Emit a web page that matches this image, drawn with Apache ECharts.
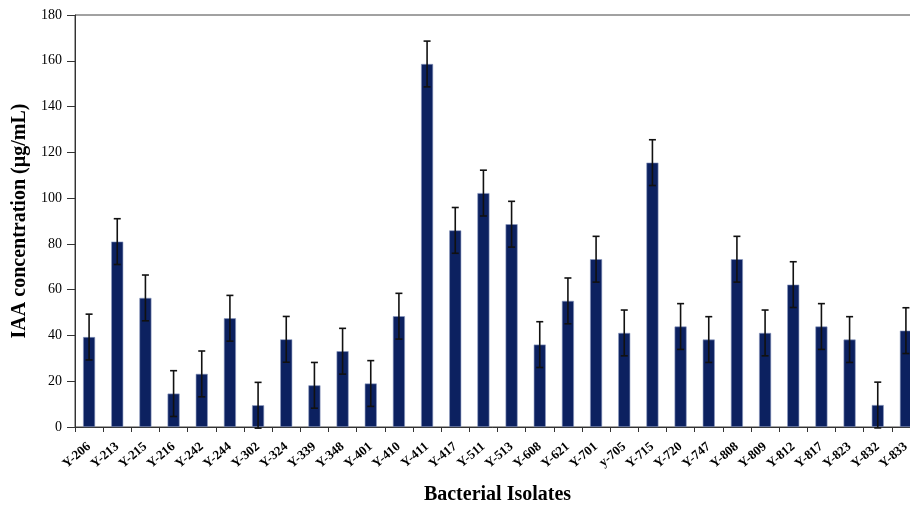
<!DOCTYPE html>
<html>
<head>
<meta charset="utf-8">
<script src="https://cdn.jsdelivr.net/npm/echarts@6/dist/echarts.min.js"></script>
<style>
html,body{margin:0;padding:0;background:#fff;}
#chart{width:910px;height:506px;}
</style>
</head>
<body>
<div id="chart"></div>
<script>
const categories = ["Y-206","Y-213","Y-215","Y-216","Y-242","Y-244","Y-302","Y-324","Y-339","Y-348","Y-401","Y-410","Y-411","Y-417","Y-511","Y-513","Y-608","Y-621","Y-701","y-705","Y-715","Y-720","Y-747","Y-808","Y-809","Y-812","Y-817","Y-823","Y-832","Y-833"];
const iaaValues = [39.3,81.0,56.4,14.6,23.2,47.5,9.5,38.3,18.2,33.1,19.0,48.4,158.6,85.9,102.2,88.6,36.0,55.1,73.3,41.1,115.5,43.9,38.2,73.3,41.1,62.2,43.9,38.2,9.6,42.1];
const errorValues = [10,10,10,10,10,10,10,10,10,10,10,10,10,10,10,10,10,10,10,10,10,10,10,10,10,10,10,10,10,10];
const yTicks = [0,20,40,60,80,100,120,140,160,180];

const errData = categories.map((c,i)=>[i, iaaValues[i]-errorValues[i], iaaValues[i]+errorValues[i]]);
const serif = '"Liberation Serif","Times New Roman",serif';

const chart = echarts.init(document.getElementById('chart'));
chart.setOption({
  animation:false,
  backgroundColor:'#fff',
  grid:{left:75, width:845, top:15, height:412, outerBoundsMode:'none', containLabel:false,
        show:true, borderColor:'#444', borderWidth:1, backgroundColor:'transparent'},
  xAxis:{
    type:'category',
    data:categories,
    name:'Bacterial Isolates',
    nameLocation:'middle',
    nameGap:58,
    nameTextStyle:{fontFamily:serif, fontWeight:'bold', fontSize:20, color:'#000'},
    axisLine:{lineStyle:{color:'#333', width:1}},
    axisTick:{show:true, length:5, lineStyle:{color:'#333'}},
    axisLabel:{rotate:40, fontFamily:serif, fontWeight:'bold', fontSize:13, color:'#000', margin:18, interval:0}
  },
  yAxis:{
    type:'value',
    min:0, max:180, interval:20,
    name:'IAA concentration (µg/mL)',
    nameLocation:'middle',
    nameGap:44,
    nameRotate:90,
    nameTextStyle:{fontFamily:serif, fontWeight:'bold', fontSize:20, color:'#000'},
    axisLine:{show:true, lineStyle:{color:'#333', width:1}},
    axisTick:{show:true, length:8, lineStyle:{color:'#333'}},
    splitLine:{show:false},
    axisLabel:{fontFamily:serif, fontSize:14, color:'#000', margin:13,
      formatter:(v)=> yTicks.includes(v) ? String(v) : ''}
  },
  series:[
    {
      type:'bar',
      data:iaaValues,
      barWidth:12,
      itemStyle:{color:'#0c2160', borderColor:'#8a98bf', borderWidth:0.6}
    },
    {
      type:'custom',
      data:errData,
      z:10,
      renderItem:function(params, api){
        const x = api.value(0);
        const lo = api.coord([x, api.value(1)]);
        const hi = api.coord([x, api.value(2)]);
        const hw = 3.5;
        const style = {stroke:'#111', lineWidth:1.6};
        return {type:'group', children:[
          {type:'line', shape:{x1:lo[0], y1:lo[1], x2:hi[0], y2:hi[1]}, style:style},
          {type:'line', shape:{x1:hi[0]-hw, y1:hi[1], x2:hi[0]+hw, y2:hi[1]}, style:style},
          {type:'line', shape:{x1:lo[0]-hw, y1:lo[1], x2:lo[0]+hw, y2:lo[1]}, style:style}
        ]};
      }
    }
  ]
});
</script>
</body>
</html>
